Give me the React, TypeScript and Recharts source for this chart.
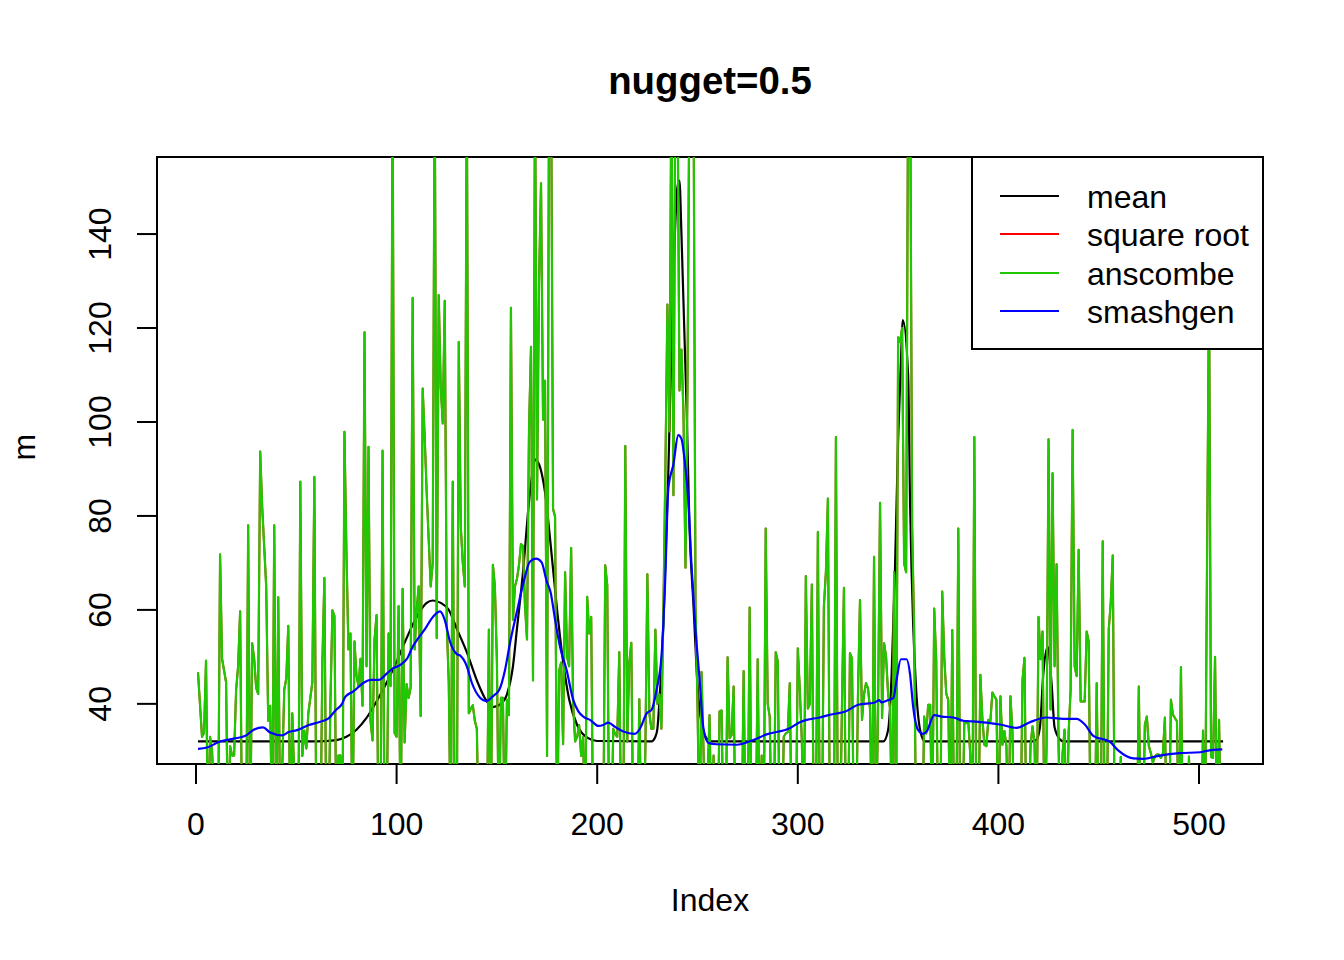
import { Legend, Line, LineChart, XAxis, YAxis } from 'recharts';

const xTicks = [0, 100, 200, 300, 400, 500];
const yTicks = [40, 60, 80, 100, 120, 140];

// [index, value]; spikes past the frame get a rough value
const anscombe: [number, number][] = [
  [1, 46.7], [3, 33], [4, 33.8], [5, 49.2], [6, 10], [7, 33], [8, 30], [10, 10], [11, 10], [12, 71.8], [13, 49.6], [15, 44.6], [16, 10], [17, 31], [18, 29], [19, 29], [20, 43], [21, 48], [22, 59.7], [23, 10], [25, 10],
  [26, 78], [27, 10], [28, 52.9], [29, 49.6], [30, 43.4], [31, 42.1], [32, 93.7], [33, 81.9], [35, 65], [36, 36.4], [37, 39.6], [38, 10], [39, 78], [40, 10], [41, 62.7], [42, 10], [44, 43], [45, 45.4], [46, 56.6], [47, 10], [48, 38], [50, 10], [51, 10],
  [52, 87.3], [53, 28.9], [54, 34.3], [55, 30.5], [56, 38], [58, 44.6], [59, 88.3], [60, 10], [62, 10], [63, 48.8], [64, 66.8], [65, 10], [66, 10], [67, 40], [68, 59.9], [69, 58.7], [70, 10], [71, 29], [72, 29], [73, 10],
  [74, 97.9], [75, 72], [76, 51.6], [77, 55], [78, 10], [79, 53.3], [80, 46], [81, 43.8], [82, 49.6], [83, 39.6], [84, 119.1], [85, 48], [86, 94.7], [87, 36.4], [88, 32.2], [89, 53.7], [90, 58.9], [91, 10], [92, 10], [93, 93.9], [94, 10], [95, 10], [96, 55], [97, 43.8], [98, 175], [99, 33.8],
  [100, 33], [101, 60.8], [102, 10], [103, 64.5], [104, 31.8], [105, 44.2], [106, 41.3], [107, 43.4], [108, 126.4], [109, 51.6], [110, 60], [111, 65], [112, 37.4], [113, 107.1], [114, 96.8], [115, 85], [116, 75], [117, 65], [118, 70], [119, 175],
  [120, 54], [121, 127], [122, 107.5], [123, 99.7], [124, 125.8], [125, 57], [126, 44.6], [127, 10], [128, 87.3], [129, 10], [130, 10], [131, 117], [132, 77.7], [133, 70], [134, 65], [135, 175], [136, 38], [137, 39], [138, 39.7], [139, 36.4], [140, 34.7], [141, 10], [145, 10],
  [146, 55.8], [147, 10], [148, 69.6], [149, 65], [150, 49], [151, 10], [152, 41.3], [153, 41.3], [154, 10], [155, 40.9], [156, 37.6], [157, 124.3], [158, 57.9], [159, 65], [160, 66.6], [161, 69.5], [162, 74], [163, 73.6], [164, 61], [165, 53.7], [166, 98.4], [167, 116], [168, 45], [169, 175],
  [170, 83.5], [171, 130], [172, 150.8], [173, 100.5], [174, 108.8], [175, 28.9], [176, 175], [177, 175], [178, 81.5], [179, 79.8], [180, 10], [181, 47], [182, 48.8], [183, 31.4], [184, 68], [185, 50], [186, 48], [187, 73.2], [188, 40], [189, 32], [190, 33], [191, 35.5], [192, 28.9], [193, 33], [194, 10],
  [195, 62.8], [196, 55], [197, 58.5], [198, 10], [203, 10], [204, 69.5], [205, 65.3], [206, 10], [207, 10], [208, 34.7], [209, 33.5], [210, 33], [211, 51], [212, 10], [213, 10], [214, 94.9], [215, 32], [216, 48.8], [217, 53], [218, 10], [220, 10], [221, 41], [222, 10], [223, 10], [224, 30],
  [225, 67.6], [226, 38], [227, 34.7], [228, 34.7], [229, 55.8], [230, 40], [231, 42], [232, 34.7], [233, 60], [234, 90], [235, 125], [236, 98], [237, 175], [238, 84.4], [239, 175], [240, 175], [241, 106.7], [242, 115.4], [243, 102], [244, 69], [245, 107], [246, 175], [247, 175], [248, 175], [249, 61], [250, 40],
  [251, 10], [252, 46.8], [253, 30], [254, 10], [256, 37.6], [257, 10], [258, 29], [259, 10], [260, 10], [261, 38.4], [262, 38.6], [263, 10], [264, 10], [265, 49.9], [266, 32.7], [267, 33.4], [268, 43.7], [269, 10], [272, 10], [273, 47], [274, 10], [275, 10], [276, 60.5], [277, 10], [279, 10],
  [280, 49.5], [281, 10], [282, 29], [283, 10], [284, 77.3], [285, 40], [286, 37.3], [287, 10], [288, 10], [289, 51], [290, 49], [291, 10], [292, 10], [293, 33], [294, 33.7], [295, 34], [296, 44.4], [297, 10], [299, 10], [300, 51.8], [301, 43], [302, 32.3], [303, 10],
  [304, 67.2], [305, 39], [306, 40], [307, 65.4], [308, 10], [309, 10], [310, 76.6], [311, 10], [312, 10], [313, 60.7], [314, 68], [315, 83.7], [316, 10], [318, 10], [319, 96.8], [320, 10], [321, 10], [322, 39.4], [323, 64.7], [324, 10], [325, 10], [326, 50.8], [327, 49.7], [328, 10], [329, 10],
  [330, 42.2], [331, 62.1], [332, 36.6], [333, 42], [334, 44.4], [335, 43.3], [336, 39], [337, 10], [338, 71.3], [339, 10], [340, 39], [341, 82.8], [342, 37], [343, 52.9], [344, 50], [345, 42.2], [346, 39], [347, 10], [348, 68], [349, 10], [350, 118], [351, 117], [352, 120],
  [353, 69.9], [354, 68], [355, 175], [356, 175], [357, 77.7], [358, 55.7], [359, 10], [360, 20], [362, 10], [363, 37.3], [364, 33.7], [365, 39.8], [366, 39.8], [367, 10], [368, 60.3], [369, 49.3], [370, 10], [371, 10], [372, 63.9], [373, 50], [374, 42.2], [375, 40.8], [376, 10], [377, 55.7], [378, 10], [379, 10],
  [380, 77.3], [381, 10], [382, 10], [383, 36.2], [384, 35.9], [385, 36.2], [386, 29], [387, 10], [388, 96.8], [389, 10], [390, 10], [391, 46.2], [392, 37], [393, 31.3], [394, 31], [395, 36.6], [396, 36.3], [397, 42.4], [398, 41.6], [399, 40.9], [400, 10],
  [401, 41.6], [402, 31.3], [403, 34.2], [404, 31], [405, 10], [406, 41.6], [407, 34], [408, 10], [411, 10], [412, 45], [413, 49.8], [414, 10], [415, 10], [416, 31], [417, 35.2], [418, 31.7], [419, 10], [420, 58.5], [421, 49.5], [422, 55.4], [423, 10], [424, 31],
  [425, 96.3], [426, 38.8], [427, 89.1], [428, 48], [429, 69.7], [430, 31], [431, 10], [432, 29.5], [433, 34.5], [434, 10], [435, 33.8], [436, 43], [437, 98.3], [438, 48], [439, 45.9], [440, 72.8], [441, 40.5], [442, 40.5], [443, 40.5], [444, 55.4], [445, 53.3], [446, 10], [448, 10],
  [449, 44.4], [450, 10], [451, 10], [452, 74.6], [453, 10], [454, 10], [455, 55.8], [456, 61.5], [457, 71.6], [458, 10], [460, 10], [461, 28.7], [462, 10], [469, 10], [470, 43.7], [471, 10], [472, 10], [473, 35.5], [474, 37.3], [475, 31], [476, 29.5], [477, 27.5], [478, 28.8],
  [479, 29.2], [480, 29.2], [481, 28.5], [482, 29.5], [483, 37.1], [484, 10], [485, 10], [486, 40.9], [487, 37.7], [488, 37], [489, 36.3], [490, 10], [491, 47.8], [492, 10], [494, 10], [495, 28.8], [496, 10], [501, 10], [502, 34.3], [503, 10],
  [505, 130], [506, 28.7], [507, 28.5], [508, 50], [509, 10], [510, 36.6], [511, 10], [512, 10],
];

const meanCurve: [number, number][] = [
  [1, 32], [60, 32], [70, 32.3], [75, 33], [80, 34.5], [85, 37], [90, 40.5], [95, 44.5], [100, 49], [105, 54], [110, 58.5], [115, 61.5], [118, 62], [122, 61.5], [126, 60], [130, 56], [135, 51], [140, 45], [145, 40.5], [148, 39.3], [152, 40], [155, 42], [158, 48], [160, 56], [163, 68], [166, 83], [168, 90], [169, 92], [171, 91], [174, 85], [177, 73], [180, 60], [183, 49], [186, 41], [190, 35.5], [195, 32.8], [200, 32.1], [227, 32], [229, 33], [230, 34.7], [231, 40.5], [233, 57], [235.5, 90], [238, 131.5], [240, 150], [241, 151.4], [242, 140], [244.6, 102.6], [246, 77.7], [248, 61], [249.6, 47], [251, 38.8], [254.6, 32.6], [257, 32],
  [342.6, 32], [345, 34.4], [346.8, 46.5], [348.4, 68], [350, 96], [351.4, 113], [352.4, 121.7], [355, 110], [356, 82], [357.5, 57], [359, 43], [361, 34.4], [363.4, 32], [417, 32], [419, 32.4], [420.7, 35], [422.3, 45.9], [424.5, 52.2], [426.5, 44.4], [428, 35], [430.7, 32.4], [432.3, 32], [512, 32],
];

const smashgen: [number, number][] = [
  [1, 30.4], [5.5, 30.7], [12, 32], [18.8, 32.6], [24.6, 33.2], [28.8, 34.5], [33.4, 35], [37, 33.9], [42.9, 33.3], [46.2, 34], [50.3, 34.4], [56.2, 35.5], [62, 36.2], [66.1, 36.9], [69.5, 38.6], [72.8, 40], [74.4, 41.5], [78.6, 42.7], [83.6, 44.5], [86.9, 45.1], [91, 45.1], [95.2, 46.5], [98, 47.5], [101.9, 48.3], [105.5, 49.8], [107.7, 51.9], [111, 54.1], [114.3, 56], [117.2, 58],
  [121.6, 59.7], [124, 57.9], [126.6, 53.3], [130, 50.6], [131.6, 50.3], [135, 48], [137.4, 44.6], [141.6, 41.3], [144.6, 40.6], [148.2, 41.7], [151.2, 43], [154, 47.1], [156.5, 52.9], [159.9, 59.5], [163.2, 65.7], [166.5, 70.3], [169.5, 70.9], [172.3, 70.1], [174.8, 66.1], [176.8, 63.7], [179, 57.9], [181.5, 52.1], [184.8, 47.1], [188, 40.9], [190.6, 38.4], [193.4, 37.2], [196.4, 36.6], [200.6, 35.3], [203, 35.5], [205.5, 36], [208.9, 35.1], [213, 34.1], [218.8, 33.6], [221.3, 34.7], [224.7, 38], [227.2, 38.8], [229.6, 43], [232.1, 50.4], [233.8, 65.3], [235.5, 86], [238, 91], [240.4, 97.2], [242, 96.4], [243.8, 91], [245.4, 83.5], [247, 69.5], [248.8, 57], [251, 45.4], [252.9, 35], [255.4, 31.7],
  [259.5, 31.4], [269.5, 31.3], [277.8, 32.3], [284.4, 33.5], [296, 34.8], [301, 36.1], [304.4, 36.6], [311, 37.1], [315.2, 37.6], [324.3, 38.5], [330.1, 39.8], [338.4, 40.3], [340.6, 40.8], [341.8, 40.3], [345, 40.8], [347.6, 41.2], [349.2, 45], [351.4, 49.5], [354.2, 49.5], [355.9, 46.5], [357.5, 39.4], [360, 34.4], [362.5, 33.6], [364.2, 34.1], [368, 37.6], [371.7, 37.3], [377.5, 37.1], [382.5, 36.4], [385.8, 36.3], [394, 36], [400.8, 35.6], [409, 34.9], [415.7, 36.1], [424, 37.1], [432.3, 36.8], [439, 36.8], [443.1, 35.6], [447.3, 33.2], [455.6, 31.9], [459.7, 30.1], [467.2, 28.4], [472.2, 28.3], [480.5, 29], [490.5, 29.5], [500.5, 29.7], [503.8, 30], [511.6, 30.3],
];

const toRows = (pairs: [number, number][]) => pairs.map(([x, y]) => ({ x, y }));

const FONT = '"Liberation Sans", Arial, sans-serif';

function RotatedTick({ x, y, payload }: any) {
  return (
    <text x={x} y={y} transform={`rotate(-90 ${x} ${y})`} textAnchor="middle" fontSize={32} fontFamily={FONT} fill="#000">
      {payload.value}
    </text>
  );
}

function LegendBox({ payload }: any) {
  return (
    <div style={{ width: 293, height: 194, background: '#fff', border: '2px solid #000', boxSizing: 'border-box', position: 'relative', fontFamily: FONT, fontSize: 32, color: '#000' }}>
      {(payload || []).map((item: any, i: number) => (
        <div key={item.value}>
          <div style={{ position: 'absolute', left: 27, top: 37 + i * 38.3, width: 59, height: 2, background: item.color }} />
          <div style={{ position: 'absolute', left: 114, top: 21 + i * 38.3, lineHeight: '37px', whiteSpace: 'nowrap' }}>{item.value}</div>
        </div>
      ))}
    </div>
  );
}

export default function App() {
  return (
    <div style={{ position: 'absolute', left: 0, top: 0, width: 1344, height: 960, background: '#fff' }}>
      <LineChart width={1344} height={960} margin={{ top: 157, right: 81, bottom: 136, left: 97 }}>
        <XAxis
          dataKey="x"
          type="number"
          domain={[-19.44, 531.9]}
          allowDataOverflow
          ticks={xTicks}
          interval={0}
          height={60}
          tickSize={20}
          tickMargin={28}
          tick={{ fontSize: 32, fontFamily: FONT, fill: '#000' }}
          tickLine={{ stroke: '#000', strokeWidth: 2 }}
          axisLine={false}
          label={{ value: 'Index', position: 'insideBottom', offset: -87, fontSize: 32, fontFamily: FONT, fill: '#000' }}
        />
        <YAxis
          dataKey="y"
          type="number"
          domain={[27.2, 156.4]}
          allowDataOverflow
          ticks={yTicks}
          interval={0}
          width={60}
          tickSize={20}
          tickMargin={26}
          tick={RotatedTick}
          tickLine={{ stroke: '#000', strokeWidth: 2 }}
          axisLine={false}
          label={{ value: 'm', angle: -90, position: 'insideLeft', offset: -73, fontSize: 32, fontFamily: FONT, fill: '#000' }}
        />
        <Line data={toRows(meanCurve)} type="monotone" dataKey="y" name="mean" stroke="#000000" strokeWidth={2.2} dot={false} isAnimationActive={false} />
        <Line data={toRows(anscombe)} dataKey="y" name="square root" stroke="#FF0000" strokeWidth={2} dot={false} strokeLinejoin="round" isAnimationActive={false} />
        <Line data={toRows(anscombe)} dataKey="y" name="anscombe" stroke="#1FC800" strokeWidth={2.2} dot={false} strokeLinejoin="round" isAnimationActive={false} />
        <Line data={toRows(smashgen)} type="monotone" dataKey="y" name="smashgen" stroke="#0000FF" strokeWidth={2.2} dot={false} isAnimationActive={false} />
        <rect x={157} y={157} width={1106} height={607} fill="none" stroke="#000" strokeWidth={2} />
        <text x={710} y={94} textAnchor="middle" fontSize={38.4} fontWeight="bold" fontFamily={FONT} fill="#000">
          nugget=0.5
        </text>
        <Legend layout="horizontal" align="center" verticalAlign="middle" itemSorter={null} wrapperStyle={{ left: 971, top: 156, width: 293, height: 194 }} content={LegendBox} />
      </LineChart>
    </div>
  );
}
